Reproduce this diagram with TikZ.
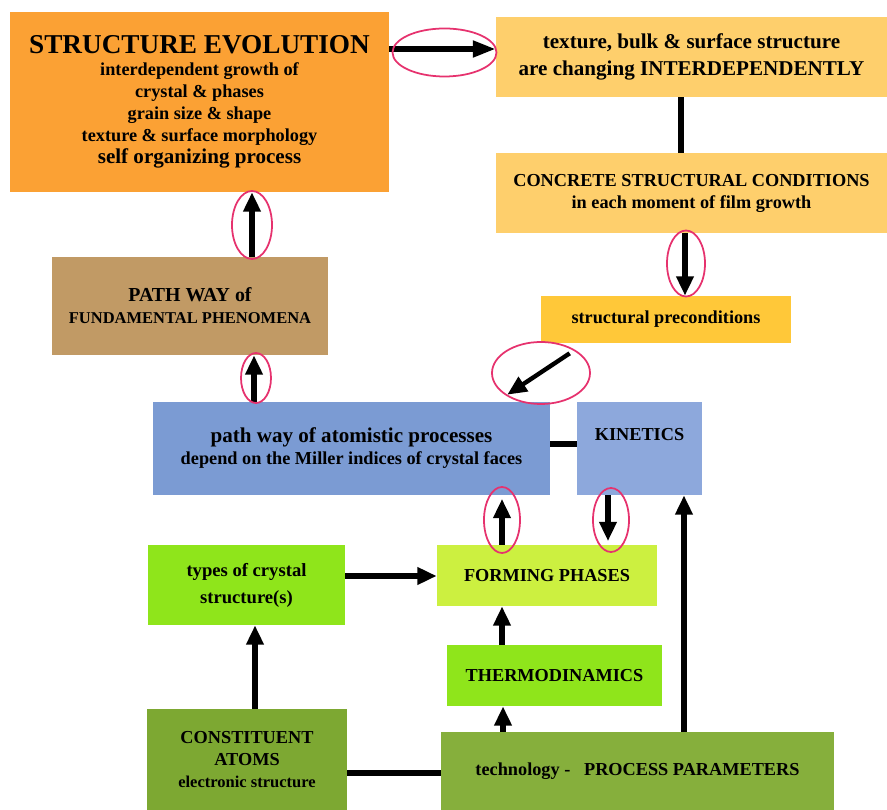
\documentclass[tikz,border=0pt]{standalone}
\usepackage{fontspec}
\setmainfont{Liberation Serif}
\usetikzlibrary{arrows.meta}

\definecolor{evoorange}{HTML}{FBA134}
\definecolor{texyellow}{HTML}{FECF6C}
\definecolor{preyellow}{HTML}{FFC839}
\definecolor{fundtan}{HTML}{C19A65}
\definecolor{atomblue}{HTML}{7B9BD3}
\definecolor{kinblue}{HTML}{8DA8DC}
\definecolor{typegreen}{HTML}{8FE51B}
\definecolor{formgreen}{HTML}{CCF040}
\definecolor{atomsgreen}{HTML}{7DA832}
\definecolor{techgreen}{HTML}{86AF3C}
\definecolor{ringpink}{HTML}{E6326E}

\begin{document}
\begin{tikzpicture}[x=0.02cm, y=-0.02cm, >={Triangle[length=11pt, width=9.5pt]}, main box/.style={rectangle, inner sep=0pt, align=center, font=\fontsize{10.4}{12.5}\selectfont\bfseries}, arrow line/.style={->, line width=3pt}, plain line/.style={line width=3pt}, ring/.style={draw=ringpink, line width=1pt}]
\useasboundingbox (0,0) rectangle (887,810);

\node [main box, fill=evoorange, minimum width=7.58cm, minimum height=3.6cm] (evo) at (199.5,102) {{\fontsize{15.5}{18}\selectfont STRUCTURE EVOLUTION}\\ interdependent growth of\\ crystal \& phases\\ grain size \& shape\\ texture \& surface morphology\\ {\fontsize{12}{14}\selectfont self organizing process}};
\node [main box, fill=texyellow, minimum width=7.82cm, minimum height=1.6cm, font=\fontsize{12}{15.3}\selectfont\bfseries] (tex) at (691.5,57) {texture, bulk \& surface structure\\ are changing INTERDEPENDENTLY};
\node [main box, fill=texyellow, minimum width=7.82cm, minimum height=1.6cm] (conc) at (691.5,193) {CONCRETE STRUCTURAL CONDITIONS\\ in each moment of film growth};
\node [main box, fill=preyellow, minimum width=5cm, minimum height=0.94cm] (pre) at (666,319.5) {structural preconditions};
\node [main box, fill=fundtan, minimum width=5.52cm, minimum height=1.96cm] (fund) at (190,306) {{\fontsize{11.3}{13}\selectfont PATH WAY of}\\ {\fontsize{9.4}{11}\selectfont FUNDAMENTAL PHENOMENA}};
\node [main box, fill=atomblue, minimum width=7.94cm, minimum height=1.86cm] (atom) at (351.5,448.5) {{\fontsize{12}{14.7}\selectfont path way of atomistic processes}\\ depend on the Miller indices of crystal faces};
\node [main box, fill=kinblue, minimum width=2.5cm, minimum height=1.86cm] (kin) at (639.5,448.5) {};
\node [main box] (kintext) at ([yshift=0.27cm]kin.center) {KINETICS};
\node [main box, fill=typegreen, minimum width=3.94cm, minimum height=1.6cm, font=\fontsize{10.6}{15.3}\selectfont\bfseries] (types) at (246.5,585) {types of crystal\\ structure(s)};
\node [main box, fill=formgreen, minimum width=4.4cm, minimum height=1.22cm] (form) at (547,575.5) {FORMING PHASES};
\node [main box, fill=typegreen, minimum width=4.3cm, minimum height=1.22cm] (thermo) at (554.5,675.5) {THERMODINAMICS};
\node [main box, fill=atomsgreen, minimum width=4cm, minimum height=2.02cm] (atoms) at (247,759.5) {CONSTITUENT\\ ATOMS\\ {\fontsize{9.4}{11}\selectfont electronic structure}};
\node [main box, fill=techgreen, minimum width=7.86cm, minimum height=1.56cm] (tech) at (637.5,771) {technology -\ \ \ PROCESS PARAMETERS};

% connectors
\draw [arrow line, >={Triangle[length=13pt, width=9pt]}] ([yshift=0.16cm]evo.east |- tex.west) -- ([yshift=0.16cm]tex.west);
\draw [plain line] ([xshift=-0.21cm]tex.south) -- ([xshift=-0.21cm]conc.north);
\draw [arrow line] ([xshift=-0.13cm]conc.south) -- ([xshift=-0.13cm]conc.south |- pre.north);
\draw [arrow line, line width=2.5pt] ([xshift=0.58cm, yshift=-0.2cm]pre.south west) -- ([xshift=-0.86cm, yshift=0.14cm]atom.north east);
\draw [arrow line] ([xshift=1.24cm]fund.north) -- ([xshift=1.24cm]fund.north |- evo.south);
\draw [arrow line] ([xshift=-1.95cm]atom.north) -- ([xshift=-1.95cm]atom.north |- fund.south);
\draw [plain line] ([yshift=0.09cm]atom.east) -- ([yshift=0.09cm]kin.west);
\draw [arrow line, shorten >=2pt] ([xshift=-0.9cm]form.north) -- ([xshift=-0.9cm]form.north |- atom.south);
\draw [arrow line, shorten >=2pt] ([xshift=-0.63cm]kin.south) -- ([xshift=-0.63cm]kin.south |- form.north);
\draw [arrow line] ([yshift=0.18cm]types.east) -- ([yshift=0.18cm]types.east -| form.west);
\draw [arrow line] ([xshift=-1.05cm]thermo.north) -- ([xshift=-1.05cm]thermo.north |- form.south);
\draw [arrow line] ([xshift=-2.69cm]tech.north) -- ([xshift=-2.69cm]tech.north |- thermo.south);
\draw [arrow line] ([xshift=0.93cm]tech.north) -- ([xshift=0.93cm]tech.north |- kin.south);
\draw [arrow line] ([xshift=0.16cm]atoms.north) -- ([xshift=0.16cm]atoms.north |- types.south);
\draw [plain line, line width=3.4pt] ([yshift=-0.27cm]atoms.east) -- ([yshift=-0.27cm]atoms.east -| tech.west);

% pink rings
\draw [ring] (444.5,52.5) ellipse [x radius=52, y radius=24];
\draw [ring] (252,225) ellipse [x radius=20, y radius=34];
\draw [ring] (686,263.5) ellipse [x radius=19, y radius=33];
\draw [ring] (541,373) ellipse [x radius=49, y radius=31];
\draw [ring] (256,378) ellipse [x radius=15, y radius=25];
\draw [ring] (502,520) ellipse [x radius=18, y radius=33];
\draw [ring] (611,520) ellipse [x radius=18, y radius=32];
\end{tikzpicture}
\end{document}
